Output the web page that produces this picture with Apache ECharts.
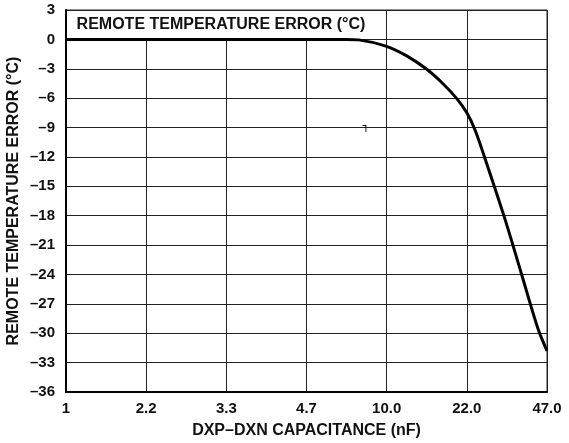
<!DOCTYPE html>
<html>
<head>
<meta charset="utf-8">
<script src="https://cdn.jsdelivr.net/npm/echarts@6/dist/echarts.min.js"></script>
<style>
    html, body { margin: 0; padding: 0; background: #fff; }
    #chart { width: 569px; height: 443px; }
</style>
</head>
<body>
<div id="chart"></div>
<script>
// Capacitance tick labels (equally spaced on the chart)
var capLabels = ["1", "2.2", "3.3", "4.7", "10.0", "22.0", "47.0"];

// Curve position along the capacitance axis (0 = 1nF ... 6 = 47nF)
var curvePos = [0, 1, 2, 3, 3.5, 3.65, 3.98, 4.25, 4.5, 4.7, 4.87, 5.0, 5.1, 5.22, 5.47, 5.68, 5.89, 6.0];
// Remote temperature error, degC
var curveErr = [0, 0, 0, 0, 0, -0.05, -0.66, -1.68, -3.05, -4.5, -6.0, -7.5, -9.2, -12.0, -18.2, -23.9, -29.6, -31.8];

var boxLabel = "REMOTE TEMPERATURE ERROR (°C)";

var font = "Liberation Sans, Arial, sans-serif";

function makeCurve() {
    var pts = [];
    for (var i = 0; i < curvePos.length; i++) {
        pts.push([curvePos[i], curveErr[i]]);
    }
    return pts;
}

var chart = echarts.init(document.getElementById("chart"));

var options = {
    animation: false,
    grid: {
        left: 66,
        right: 22,
        top: 10,
        bottom: 51,
        outerBoundsMode: "none",
        containLabel: false,
        show: true,
        borderColor: "#222",
        borderWidth: 1,
        backgroundColor: "#fff",
    },
    xAxis: {
        type: "value",
        min: 0,
        max: 6,
        interval: 1,
        name: "DXP\u2013DXN CAPACITANCE (nF)",
        nameLocation: "middle",
        nameGap: 31,
        nameMoveOverlap: false,
        nameTextStyle: { fontFamily: font, fontWeight: "bold", fontSize: 16, color: "#111" },
        axisLine: { show: true, onZero: false, lineStyle: { color: "#000", width: 2 } },
        axisTick: { show: false },
        axisLabel: {
            fontFamily: font, fontWeight: "bold", fontSize: 15, color: "#111", margin: 9,
            formatter: function (v) { return capLabels[Math.round(v)]; },
        },
        splitLine: { show: true, lineStyle: { color: "#222", width: 1 } },
    },
    yAxis: {
        type: "value",
        min: -36,
        max: 3,
        interval: 3,
        name: "REMOTE TEMPERATURE ERROR (°C)",
        nameLocation: "middle",
        nameGap: 44,
        nameMoveOverlap: false,
        nameTextStyle: { fontFamily: font, fontWeight: "bold", fontSize: 16, color: "#111" },
        axisLine: { show: true, onZero: false, lineStyle: { color: "#000", width: 2 } },
        axisTick: { show: false },
        axisLabel: {
            fontFamily: font, fontWeight: "bold", fontSize: 15, color: "#111", margin: 11,
            formatter: function (v) { return v < 0 ? "\u2013" + Math.abs(v) : String(v); },
        },
        splitLine: { show: true, lineStyle: { color: "#222", width: 1 } },
    },
    series: [
        {
            type: "line",
            data: makeCurve(),
            smooth: 0.3,
            showSymbol: false,
            lineStyle: { color: "#000", width: 3 },
            markArea: {
                silent: true,
                itemStyle: { color: "#fff" },
                label: {
                    show: true,
                    position: "insideLeft",
                    distance: 9,
                    fontFamily: font, fontWeight: "bold", fontSize: 16, color: "#111",
                },
                data: [[{ name: boxLabel, coord: [0.02, 2.9] }, { coord: [3.8, 0.15] }]],
            },
            markPoint: {
                silent: true,
                symbol: "rect",
                symbolSize: 10,
                itemStyle: { color: "rgba(0,0,0,0)" },
                label: {
                    show: true, position: "inside", formatter: "\u2510",
                    fontSize: 11, color: "#000", fontFamily: "DejaVu Sans",
                },
                data: [{ coord: [3.74, -8.9] }],
            },
        },
    ],
};

chart.setOption(options);
</script>
</body>
</html>
